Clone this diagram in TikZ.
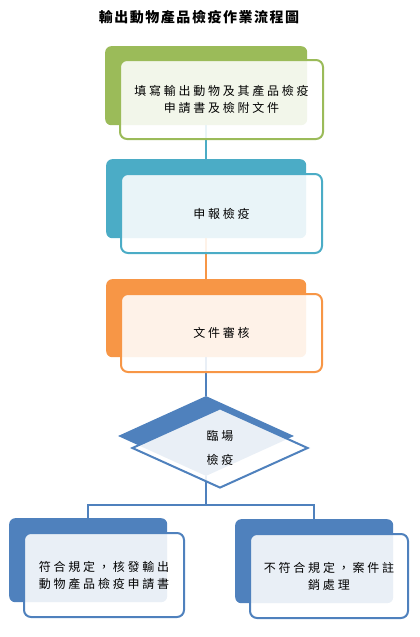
\documentclass[tikz,border=0pt]{standalone}
\usepackage{fontspec}
\newfontfamily\cjk{Noto Sans CJK TC}[LetterSpace=23]
\usetikzlibrary{shapes.geometric}
\definecolor{cgreen}{HTML}{9BBB59}
\definecolor{cteal}{HTML}{4BACC6}
\definecolor{corange}{HTML}{F79646}
\definecolor{cblue}{HTML}{4F81BD}
\tikzset{
  backbox/.style={fill=#1, draw=none, rounded corners=6pt, inner sep=0pt, anchor=north west},
  frontbox/.style={draw=#1, fill=white, fill opacity=0.88, text opacity=1, line width=2pt,
    rounded corners=7pt, inner sep=0pt, anchor=north west, align=center,
    font=\cjk\fontsize{12}{17}\selectfont},
  conn/.style={draw=#1, line width=2pt},
}
\begin{document}
\begin{tikzpicture}[x=1pt,y=-1pt]
\useasboundingbox (0,0) rectangle (420,637);
\node[font=\cjk\addfontfeature{LetterSpace=11}\bfseries\fontsize{14}{16}\selectfont] (title) at (199,17) {輸出動物產品檢疫作業流程圖};
% back shapes
\node[backbox=cgreen, minimum width=202pt, minimum height=79pt] (b1) at (105,46) {};
\node[backbox=cteal, minimum width=200pt, minimum height=79pt] (b2) at (106,159) {};
\node[backbox=corange, minimum width=200pt, minimum height=78pt] (b3) at (106,279) {};
\node[diamond, fill=cblue, inner sep=0pt, minimum width=176pt, minimum height=80pt] (d0) at (206,436) {};
\node[backbox=cblue, minimum width=158pt, minimum height=84pt] (bl) at (9,518) {};
\node[backbox=cblue, minimum width=158pt, minimum height=84pt] (br) at (235,519) {};
% connectors
\draw[conn=cteal] (b1.south) -- (b2.north);
\draw[conn=corange] (b2.south) -- (b3.north);
\draw[conn=cblue] (b3.south) -- (b3.south |- d0.north);
\coordinate (j) at (206,505);
\draw[conn=cblue] (d0.south) -- (j);
\draw[conn=cblue] (bl.north) |- (j) -| (br.north);
% front shapes
\node[frontbox=cgreen, minimum width=203pt, minimum height=79pt] (f1) at (119,59) {填寫輸出動物及其產品檢疫\\申請書及檢附文件};
\node[frontbox=cteal, minimum width=201pt, minimum height=79pt] (f2) at (120,173) {申報檢疫};
\node[frontbox=corange, minimum width=201pt, minimum height=78pt] (f3) at (120,293) {文件審核};
\node[diamond, draw=cblue, fill=white, fill opacity=0.88, text opacity=1, line width=2pt, inner sep=0pt,
  minimum width=176pt, minimum height=80pt, align=center, font=\cjk\fontsize{12}{24}\selectfont] (d1) at (220,448) {臨場\\檢疫};
\node[frontbox=cblue, minimum width=160pt, minimum height=84pt] (fl) at (23,532) {符合規定，核發輸出\\動物產品檢疫申請書};
\node[frontbox=cblue, minimum width=158pt, minimum height=84pt] (fr) at (249,533) {不符合規定，案件註\\銷處理};
\end{tikzpicture}
\end{document}
